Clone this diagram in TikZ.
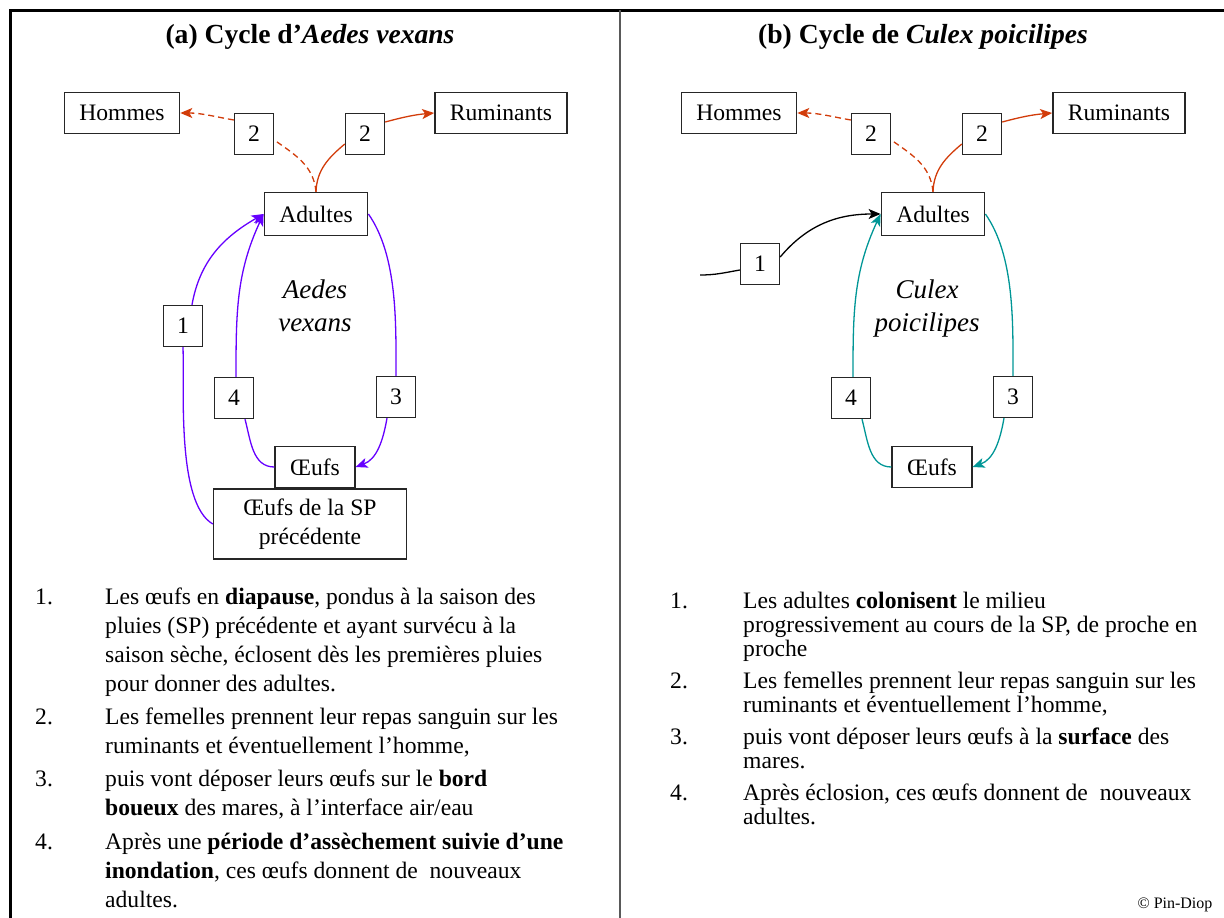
\documentclass[tikz,border=0pt]{standalone}
\usepackage{fontspec}
\setmainfont{Liberation Serif}
\usepackage{xcolor}
\usepackage{tikz}
\usetikzlibrary{arrows.meta}
\definecolor{aedes}{RGB}{102,0,255}
\definecolor{culex}{RGB}{0,150,150}
\definecolor{repas}{RGB}{210,60,10}
\newcommand{\txt}{\fontsize{23.6}{29}\selectfont}
\newcommand{\txtb}{\fontsize{23.6}{24}\selectfont}
\newcommand{\ttl}{\fontsize{27.6}{32}\selectfont\bfseries}
\newcommand{\spc}{\fontsize{27}{33}\selectfont\itshape}
\tikzstyle{box} = [draw=black!85, line width=1.4pt, inner xsep=15pt, inner ysep=0pt, minimum height=41pt, font=\txt]
\tikzstyle{num} = [box, inner xsep=0pt, minimum width=39pt]
\tikzstyle{link} = [line width=1.3pt]
\tikzstyle{arrow} = [link, -{Stealth[length=12pt,width=10pt,inset=3pt]}]
\tikzstyle{pointille} = [dash pattern=on 6pt off 4pt]
\tikzstyle{item} = [anchor=base west, inner sep=0pt, font=\txt, align=left]
\tikzstyle{itemb} = [item, font=\txtb]

\begin{document}
\begin{tikzpicture}[x=1pt, y=-1pt]
            \useasboundingbox (0,0) rectangle (1224,918);
            \draw[line width=3pt] (10,918) -- (10,10) -- (1224,10);
            \draw[line width=2pt, black!65] (620,10) -- (620,918);

            % (a) Aedes vexans
            \node[font=\ttl] (titreA) at (310,37) {(a) Cycle d’\textit{Aedes vexans}};
            \node[box] (hommesA) at (122,113) {Hommes};
            \node[box] (rumA) at (501,113) {Ruminants};
            \node[num] (deuxgA) at (254,134) {2};
            \node[num] (deuxdA) at (365,134) {2};
            \node[box, minimum height=43pt] (adultesA) at (316,214) {Adultes};
            \node[font=\spc, align=center] (nomA) at (315,306) {Aedes\\vexans};
            \node[num] (unA) at (183,326) {1};
            \node[num] (quatreA) at (234,398) {4};
            \node[num] (troisA) at (396,397) {3};
            \node[box] (oeufsA) at (315,467) {Œufs};
            \node[box, minimum width=193pt, minimum height=70pt, align=center] (oeufspA) at (310,524) {Œufs de la SP\\précédente};
            \draw[link, aedes] (oeufspA.west) to[out=150,in=-88,looseness=0.6] (unA.south);
            \draw[arrow, aedes] ([xshift=9pt]unA.north) to[out=80,in=210] (adultesA.west);
            \draw[link, aedes] (oeufsA.west) to[out=180,in=-75] ([xshift=11pt]quatreA.south);
            \draw[arrow, aedes] ([xshift=2pt]quatreA.north) to[out=90,in=245] (adultesA.west);
            \draw[link, aedes] (adultesA.east) to[out=-55,in=90,looseness=0.8] (troisA.north);
            \draw[arrow, aedes] ([xshift=-9pt]troisA.south) to[out=-100,in=20] (oeufsA.east);
            \draw[link, repas] (adultesA.north) to[out=88,in=220] ([yshift=-10pt]deuxdA.west);
            \draw[arrow, repas] ([yshift=12pt]deuxdA.east) to[out=15,in=185] (rumA.west);
            \draw[link, repas, pointille] (adultesA.north) to[out=95,in=-35] ([yshift=-6pt]deuxgA.east);
            \draw[arrow, repas, pointille] ([yshift=14pt]deuxgA.west) to[out=170,in=0] (hommesA.east);

            \node[item] (n1A) at (35,604) {1.};
            \node[item] (t1A) at (105,691) {Les œufs en \textbf{diapause}, pondus à la saison des\\pluies (SP) précédente et ayant survécu à la\\saison sèche, éclosent dès les premières pluies\\pour donner des adultes.};
            \node[item] (n2A) at (35,724) {2.};
            \node[item] (t2A) at (105,753) {Les femelles prennent leur repas sanguin sur les\\ruminants et éventuellement l’homme,};
            \node[item] (n3A) at (35,786) {3.};
            \node[item] (t3A) at (105,815) {puis vont déposer leurs œufs sur le \textbf{bord}\\\textbf{boueux} des mares, à l’interface air/eau};
            \node[item] (n4A) at (35,849) {4.};
            \node[item] (t4A) at (105,907) {Après une \textbf{période d’assèchement suivie d’une}\\\textbf{inondation}, ces œufs donnent de~ nouveaux\\adultes.};

            % (b) Culex poicilipes
            \node[font=\ttl] (titreB) at (923,37) {(b) Cycle de \textit{Culex poicilipes}};
            \node[box] (hommesB) at (739,113) {Hommes};
            \node[box] (rumB) at (1119,113) {Ruminants};
            \node[num] (deuxgB) at (871,134) {2};
            \node[num] (deuxdB) at (982,134) {2};
            \node[box, minimum height=43pt] (adultesB) at (933,214) {Adultes};
            \node[font=\spc, align=center] (nomB) at (927,309) {Culex\\poicilipes};
            \node[num] (unB) at (760,264) {1};
            \node[num] (quatreB) at (851,398) {4};
            \node[num] (troisB) at (1013,397) {3};
            \node[box] (oeufsB) at (932,467) {Œufs};
            \coordinate (entreeB) at (700,275);
            \draw[link] (entreeB) to[out=0,in=190] ([yshift=-6pt]unB.west);
            \draw[arrow] ([yshift=7pt]unB.east) to[out=50,in=180] (adultesB.west);
            \draw[link, culex] (oeufsB.west) to[out=180,in=-75] ([xshift=11pt]quatreB.south);
            \draw[arrow, culex] ([xshift=2pt]quatreB.north) to[out=90,in=245] (adultesB.west);
            \draw[link, culex] (adultesB.east) to[out=-55,in=90,looseness=0.8] (troisB.north);
            \draw[arrow, culex] ([xshift=-9pt]troisB.south) to[out=-100,in=20] (oeufsB.east);
            \draw[link, repas] (adultesB.north) to[out=88,in=220] ([yshift=-10pt]deuxdB.west);
            \draw[arrow, repas] ([yshift=12pt]deuxdB.east) to[out=15,in=185] (rumB.west);
            \draw[link, repas, pointille] (adultesB.north) to[out=95,in=-35] ([yshift=-6pt]deuxgB.east);
            \draw[arrow, repas, pointille] ([yshift=14pt]deuxgB.west) to[out=170,in=0] (hommesB.east);

            \node[itemb] (n1B) at (670,608) {1.};
            \node[itemb] (t1B) at (743,656) {Les adultes \textbf{colonisent} le milieu\\progressivement au cours de la SP, de proche en\\proche};
            \node[itemb] (n2B) at (670,688) {2.};
            \node[itemb] (t2B) at (743,712) {Les femelles prennent leur repas sanguin sur les\\ruminants et éventuellement l’homme,};
            \node[itemb] (n3B) at (670,744) {3.};
            \node[itemb] (t3B) at (743,768) {puis vont déposer leurs œufs à la \textbf{surface} des\\mares.};
            \node[itemb] (n4B) at (670,800) {4.};
            \node[itemb] (t4B) at (743,824) {Après éclosion, ces œufs donnent de~ nouveaux\\adultes.};

            \node[font=\fontsize{16}{18}\selectfont] (credit) at (1175,905) {© Pin-Diop};
\end{tikzpicture}
\end{document}
